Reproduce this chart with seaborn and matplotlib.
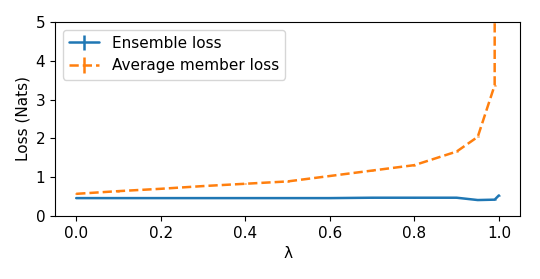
import numpy as np
import matplotlib
matplotlib.use("Agg")
import matplotlib.pyplot as plt
import seaborn as sns

lambdas = [0.0, 0.1, 0.2, 0.3, 0.4, 0.5, 0.6, 0.7, 0.8, 0.9, 0.95, 0.99, 1.0]
ensemble_loss = [0.46, 0.46, 0.46, 0.46, 0.46, 0.46, 0.46, 0.47, 0.47, 0.47, 0.41, 0.42, 0.53]
ensemble_err = [0.01] * len(lambdas)
member_loss = [0.57, 0.64, 0.70, 0.77, 0.83, 0.89, 1.03, 1.17, 1.31, 1.66, 2.04, 3.37, 200.0]
member_err = [0.01] * len(lambdas)

sns.set_style("ticks", {"text.color": "black", "axes.labelcolor": "black",
                        "xtick.color": "black", "ytick.color": "black",
                        "axes.edgecolor": "black"})
plt.rcParams["font.size"] = 11
colors = sns.color_palette("tab10")

fig, ax = plt.subplots(figsize=(5.4, 2.79), dpi=100)
fig.subplots_adjust(left=0.102, right=0.963, top=0.921, bottom=0.226)

ax.errorbar(lambdas, ensemble_loss, yerr=ensemble_err, color=colors[0],
            linewidth=1.8, label="Ensemble loss")
ax.errorbar(lambdas, member_loss, yerr=member_err, color=colors[1],
            linestyle="--", linewidth=1.8, label="Average member loss")

ax.set_ylim(0, 5)
ax.set_xlabel("λ")
ax.set_ylabel("Loss (Nats)")
ax.legend(loc="upper left")

fig.savefig("out.png", dpi=100)
